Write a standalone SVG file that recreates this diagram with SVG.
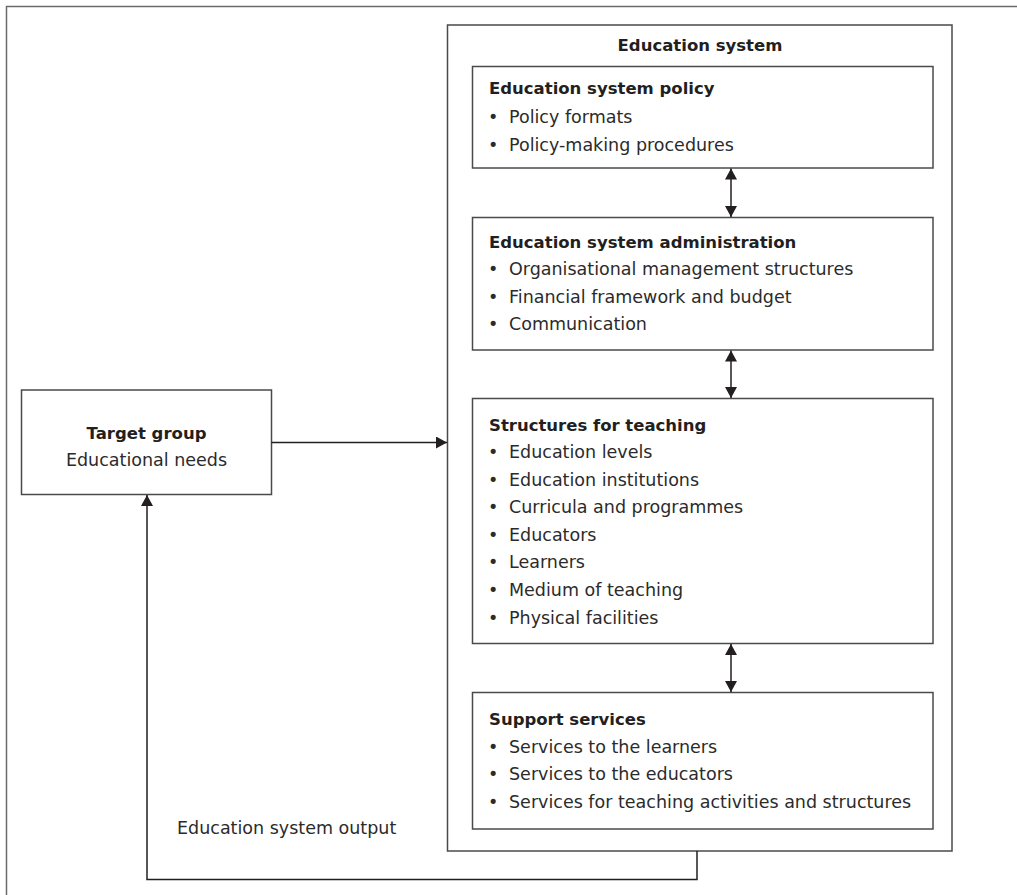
<svg xmlns="http://www.w3.org/2000/svg" width="1017" height="895" viewBox="0 0 1017 895">
  <style>
    .frame { fill: none; stroke: #6b6b6b; stroke-width: 1.5; }
    .box { fill: #ffffff; stroke: #4a4a4a; stroke-width: 1.5; }
    .conn { fill: none; stroke: #231f20; stroke-width: 1.5; }
    .t { font-family: "DejaVu Sans", "Liberation Sans", sans-serif; font-size: 17.5px; fill: #2b2b2b; }
    .b { font-family: "DejaVu Sans", "Liberation Sans", sans-serif; font-size: 16.5px; font-weight: bold; fill: #231f20; }
  </style>
  <defs>
    <marker id="head" markerUnits="userSpaceOnUse" markerWidth="12" markerHeight="12" refX="11" refY="6" orient="auto-start-reverse">
      <path d="M0,0 L11,6 L0,12 Z" fill="#231f20"/>
    </marker>
  </defs>

  <!-- outer frame (open on the right and bottom) -->
  <path class="frame" d="M6.5,895 V6.5 H1017"/>

  <g id="target-group">
    <rect class="box" x="21.5" y="390" width="250" height="104.5"/>
    <text class="b" x="146.5" y="438.5" text-anchor="middle">Target group</text>
    <text class="t" x="146.5" y="466" text-anchor="middle">Educational needs</text>
  </g>

  <g id="education-system">
    <rect class="box" x="447.5" y="25" width="504.5" height="826"/>
    <text class="b" x="700" y="50.5" text-anchor="middle">Education system</text>
  </g>

  <g id="policy">
    <rect class="box" x="472.5" y="66.5" width="460.5" height="101.5"/>
    <text class="b" x="489" y="94">Education system policy</text>
    <text class="t"><tspan x="488" y="122.5">•</tspan><tspan x="509">Policy formats</tspan></text>
    <text class="t"><tspan x="488" y="150.5">•</tspan><tspan x="509">Policy-making procedures</tspan></text>
  </g>

  <g id="administration">
    <rect class="box" x="472.5" y="217.5" width="460.5" height="132.5"/>
    <text class="b" x="489" y="247.5">Education system administration</text>
    <text class="t"><tspan x="488" y="275">•</tspan><tspan x="509">Organisational management structures</tspan></text>
    <text class="t"><tspan x="488" y="302.5">•</tspan><tspan x="509">Financial framework and budget</tspan></text>
    <text class="t"><tspan x="488" y="330">•</tspan><tspan x="509">Communication</tspan></text>
  </g>

  <g id="teaching-structures">
    <rect class="box" x="472.5" y="398.5" width="460.5" height="245"/>
    <text class="b" x="489" y="430.5">Structures for teaching</text>
    <text class="t"><tspan x="488" y="458">•</tspan><tspan x="509">Education levels</tspan></text>
    <text class="t"><tspan x="488" y="485.5">•</tspan><tspan x="509">Education institutions</tspan></text>
    <text class="t"><tspan x="488" y="513">•</tspan><tspan x="509">Curricula and programmes</tspan></text>
    <text class="t"><tspan x="488" y="540.5">•</tspan><tspan x="509">Educators</tspan></text>
    <text class="t"><tspan x="488" y="568">•</tspan><tspan x="509">Learners</tspan></text>
    <text class="t"><tspan x="488" y="596">•</tspan><tspan x="509">Medium of teaching</tspan></text>
    <text class="t"><tspan x="488" y="624">•</tspan><tspan x="509">Physical facilities</tspan></text>
  </g>

  <g id="support-services">
    <rect class="box" x="472.5" y="692.5" width="460.5" height="136.5"/>
    <text class="b" x="489" y="725">Support services</text>
    <text class="t"><tspan x="488" y="752.5">•</tspan><tspan x="509">Services to the learners</tspan></text>
    <text class="t"><tspan x="488" y="780">•</tspan><tspan x="509">Services to the educators</tspan></text>
    <text class="t"><tspan x="488" y="808">•</tspan><tspan x="509">Services for teaching activities and structures</tspan></text>
  </g>

  <g id="connectors">
    <line class="conn" x1="271.5" y1="442.5" x2="447" y2="442.5" marker-end="url(#head)"/>
    <line class="conn" x1="731" y1="168.5" x2="731" y2="217" marker-start="url(#head)" marker-end="url(#head)"/>
    <line class="conn" x1="731" y1="350.5" x2="731" y2="398" marker-start="url(#head)" marker-end="url(#head)"/>
    <line class="conn" x1="731" y1="644" x2="731" y2="692" marker-start="url(#head)" marker-end="url(#head)"/>
    <path class="conn" d="M697,851 V879.5 H147 V495" marker-end="url(#head)"/>
    <text class="t" x="177" y="834">Education system output</text>
  </g>
</svg>
